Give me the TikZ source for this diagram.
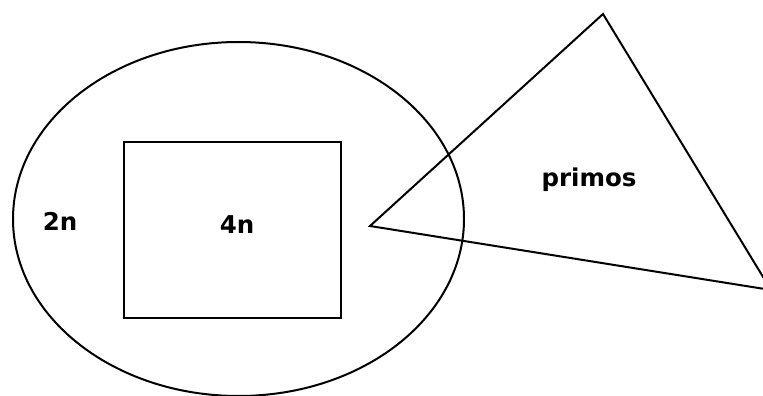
\documentclass[tikz,border=0pt]{standalone}
\usepackage{fontspec}
\setmainfont{DejaVu Sans}
\begin{document}
\begin{tikzpicture}[x=1pt,y=-1pt,
  shapeline/.style={draw=black,line width=2pt},
  lbl/.style={font=\fontsize{24.5}{26}\selectfont\bfseries,inner sep=0pt}]
\useasboundingbox (0,0) rectangle (763,396);
\begin{scope}
\clip (0,0) rectangle (763,396);
\draw[shapeline] (238.5,219) ellipse [x radius=225.5, y radius=177];
\draw[shapeline] (124,142) rectangle (341,318);
\coordinate (tA) at (603,14);
\coordinate (tB) at (370,226);
\coordinate (tC) at (771,290);
\draw[shapeline,line join=miter] (tA) -- (tB) -- (tC) -- cycle;
\end{scope}
\node[lbl] (two) at (60,221) {2n};
\node[lbl] (four) at (237,225) {4n};
\node[lbl] (pr) at (589,180) {primos};
\end{tikzpicture}
\end{document}
